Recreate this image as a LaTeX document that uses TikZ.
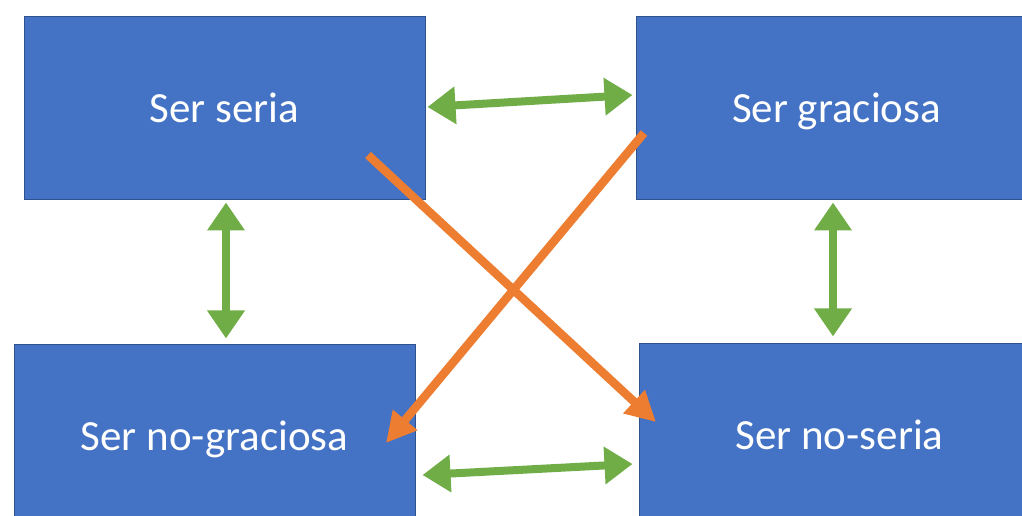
\documentclass[tikz,border=0pt]{standalone}
\usepackage{fontspec}
\setmainfont{Carlito}
\usepackage{xcolor}
\usetikzlibrary{arrows.meta,positioning}
\definecolor{boxblue}{HTML}{4472C4}
\definecolor{boxline}{HTML}{2F528F}
\definecolor{linkgreen}{HTML}{70AD47}
\definecolor{crossorange}{HTML}{ED7D31}

\begin{document}
\begin{tikzpicture}[
    x=1pt, y=1pt,
    statebox/.style={draw=boxline, line width=1pt, fill=boxblue, text=white,
      minimum width=401pt, minimum height=183pt, inner sep=0pt,
      text height=32pt, text depth=4pt,
      font=\fontsize{43}{50}\selectfont},
    link/.style={draw=linkgreen, line width=8pt,
      {Triangle[length=28pt,width=36pt]}-{Triangle[length=28pt,width=36pt]}},
    cross/.style={draw=crossorange, line width=8.5pt,
      -{Triangle[length=30pt,width=30pt]}}
  ]
  \useasboundingbox (0,0) rectangle (1022,516);
  \fill[white] (0,0) rectangle (1022,516);

  \node[statebox] (seria) at (224.5,407.5) {Ser seria};
  \node[statebox, right=210pt of seria] (graciosa) {Ser graciosa};
  \node[statebox, below=144pt of seria, xshift=-10pt] (nograciosa) {Ser no-graciosa};
  \node[statebox, right=223pt of nograciosa, yshift=1pt] (noseria) {Ser no-seria};

  % green double arrows between neighbours
  \draw[link] ([xshift=2pt,yshift=1.5pt]seria.east) -- ([xshift=-3pt,yshift=13.5pt]graciosa.west);
  \draw[link] ([xshift=1.5pt,yshift=-2pt]seria.south) -- ([xshift=11.5pt,yshift=6pt]nograciosa.north);
  \draw[link] ([xshift=-3.5pt,yshift=-2pt]graciosa.south) -- ([xshift=-6.5pt,yshift=7pt]noseria.north);
  \draw[link] ([xshift=7pt,yshift=-38.5pt]nograciosa.east) -- ([xshift=-6pt,yshift=-28.5pt]noseria.west);

  % orange diagonals
  \draw[cross] ([xshift=143.5pt,yshift=-46.5pt]seria.center) -- ([xshift=-183.5pt,yshift=13.5pt]noseria.center);
  \draw[cross] ([xshift=-192.5pt,yshift=-24.5pt]graciosa.center) -- ([xshift=171.5pt,yshift=-6.5pt]nograciosa.center);
\end{tikzpicture}
\end{document}
